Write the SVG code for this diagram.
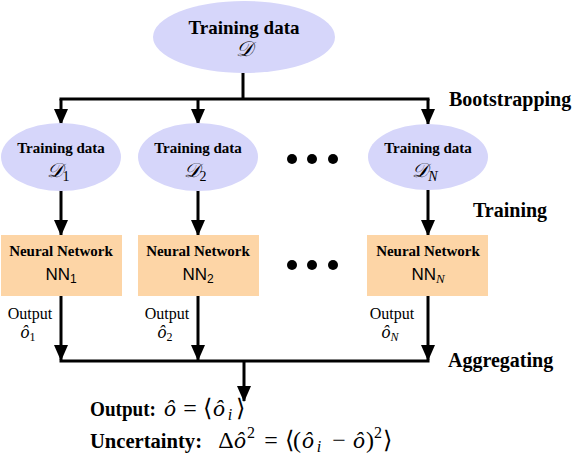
<svg xmlns="http://www.w3.org/2000/svg" width="581" height="461" viewBox="0 0 581 461">
<defs>
<style>
.ell{fill:#D6D6FA;}
.box{fill:#FDD5A6;}
.ln{stroke:#000;stroke-width:3;fill:none;}
.arr{stroke:#000;stroke-width:3;fill:none;marker-end:url(#ah);}
.b{font-family:"Liberation Serif",serif;font-weight:bold;fill:#000;}
.r{font-family:"Liberation Serif",serif;fill:#000;}
.m{font-family:"Liberation Serif",serif;font-style:italic;fill:#000;}
.s{font-family:"Liberation Sans",Arial,sans-serif;fill:#000;}
.scr{font-family:"DejaVu Serif","Noto Sans",serif;font-style:italic;fill:#000;}
.n{font-style:normal;}
.dot{fill:#000;}
</style>
<marker id="ah" markerUnits="userSpaceOnUse" markerWidth="16" markerHeight="14" viewBox="0 0 16 14" refX="15" refY="7" orient="auto">
<path d="M0,0 L16,7 L0,14 Z" fill="#000"/>
</marker>
</defs>
<g id="connectors">
<path class="ln" d="M243,73 V99"/>
<path class="ln" d="M59.5,99 H429.5"/>
<path class="arr" d="M61,99 V124"/>
<path class="arr" d="M198,99 V124"/>
<path class="arr" d="M428,99 V124"/>
<path class="arr" d="M61,190 V235"/>
<path class="arr" d="M198,190 V235"/>
<path class="arr" d="M428,190 V235"/>
<path class="arr" d="M61,296 V360"/>
<path class="arr" d="M198,296 V360"/>
<path class="arr" d="M428,296 V360"/>
<path class="ln" d="M59.5,361 H429.5"/>
<path class="arr" d="M244,361 V401"/>
</g>
<g id="data">
<ellipse class="ell" cx="244" cy="37" rx="91" ry="36"/>
<text class="b" x="244" y="34" font-size="19" text-anchor="middle">Training data</text>
<text class="scr" x="244" y="56" font-size="21" text-anchor="middle">𝒟</text>
</g>
<g id="data1">
<ellipse class="ell" cx="61" cy="157" rx="60" ry="34"/>
<text class="b" x="61" y="153" font-size="15" text-anchor="middle">Training data</text>
<text class="scr" x="58" y="177" font-size="20" text-anchor="middle">𝒟<tspan class="r n" font-size="14" dy="4">1</tspan></text>
</g>
<g id="data2">
<ellipse class="ell" cx="198" cy="157" rx="60" ry="34"/>
<text class="b" x="198" y="153" font-size="15" text-anchor="middle">Training data</text>
<text class="scr" x="195" y="177" font-size="20" text-anchor="middle">𝒟<tspan class="r n" font-size="14" dy="4">2</tspan></text>
</g>
<g id="dataN">
<ellipse class="ell" cx="428" cy="157" rx="60" ry="33"/>
<text class="b" x="428" y="153" font-size="15" text-anchor="middle">Training data</text>
<text class="scr" x="425" y="177" font-size="20" text-anchor="middle">𝒟<tspan class="m" font-size="14" dy="4">N</tspan></text>
</g>
<g id="dots1">
<circle class="dot" cx="292" cy="159" r="5"/>
<circle class="dot" cx="312" cy="159" r="5"/>
<circle class="dot" cx="333" cy="159" r="5"/>
</g>
<g id="nn1">
<rect class="box" x="1" y="235" width="121" height="61"/>
<text class="b" x="61" y="256" font-size="15" text-anchor="middle">Neural Network</text>
<text class="s" x="61" y="280" font-size="17" text-anchor="middle">NN<tspan font-size="12" dy="3">1</tspan></text>
</g>
<g id="nn2">
<rect class="box" x="138" y="235" width="121" height="61"/>
<text class="b" x="198" y="256" font-size="15" text-anchor="middle">Neural Network</text>
<text class="s" x="198" y="280" font-size="17" text-anchor="middle">NN<tspan font-size="12" dy="3">2</tspan></text>
</g>
<g id="nnN">
<rect class="box" x="367" y="235" width="121" height="61"/>
<text class="b" x="428" y="256" font-size="15" text-anchor="middle">Neural Network</text>
<text class="s" x="428" y="280" font-size="17" text-anchor="middle">NN<tspan class="m" font-size="13" dy="3">N</tspan></text>
</g>
<g id="dots2">
<circle class="dot" cx="292" cy="265" r="5"/>
<circle class="dot" cx="312" cy="265" r="5"/>
<circle class="dot" cx="333" cy="265" r="5"/>
</g>
<g id="labels">
<text class="b" x="449" y="106" font-size="20">Bootstrapping</text>
<text class="b" x="473" y="217" font-size="20">Training</text>
<text class="b" x="448" y="367" font-size="20">Aggregating</text>
<text class="r" x="30" y="319" font-size="16" text-anchor="middle">Output</text>
<text class="m" x="28" y="338" font-size="18" text-anchor="middle">ô<tspan class="r n" font-size="12" dy="3">1</tspan></text>
<text class="r" x="167" y="319" font-size="16" text-anchor="middle">Output</text>
<text class="m" x="165" y="338" font-size="18" text-anchor="middle">ô<tspan class="r n" font-size="12" dy="3">2</tspan></text>
<text class="r" x="392" y="319" font-size="16" text-anchor="middle">Output</text>
<text class="m" x="390" y="338" font-size="18" text-anchor="middle">ô<tspan font-size="12" dy="3">N</tspan></text>
</g>
<g id="result">
<text class="b" x="90" y="416" font-size="20" textLength="66" lengthAdjust="spacingAndGlyphs">Output:</text>
<text class="m" y="416" font-size="24" text-anchor="middle"><tspan x="170">ô</tspan><tspan class="n" x="190">=</tspan><tspan class="n" x="207">⟨</tspan><tspan x="219">ô</tspan><tspan font-size="16" x="230" dy="4">i</tspan><tspan class="n" x="240" dy="-4">⟩</tspan></text>
<text class="b" x="90" y="448" font-size="20" textLength="112" lengthAdjust="spacingAndGlyphs">Uncertainty:</text>
<text class="m" y="448" font-size="24" text-anchor="middle"><tspan class="n" x="226">Δ</tspan><tspan x="240">ô</tspan><tspan class="n" font-size="16" x="251" dy="-10">2</tspan><tspan class="n" x="271" dy="10">=</tspan><tspan class="n" x="289">⟨</tspan><tspan class="n" x="297">(</tspan><tspan x="308">ô</tspan><tspan font-size="16" x="319" dy="4">i</tspan><tspan class="n" x="339" dy="-4">−</tspan><tspan x="359">ô</tspan><tspan class="n" x="370">)</tspan><tspan class="n" font-size="16" x="378" dy="-10">2</tspan><tspan class="n" x="387" dy="10">⟩</tspan></text>
</g>
</svg>
